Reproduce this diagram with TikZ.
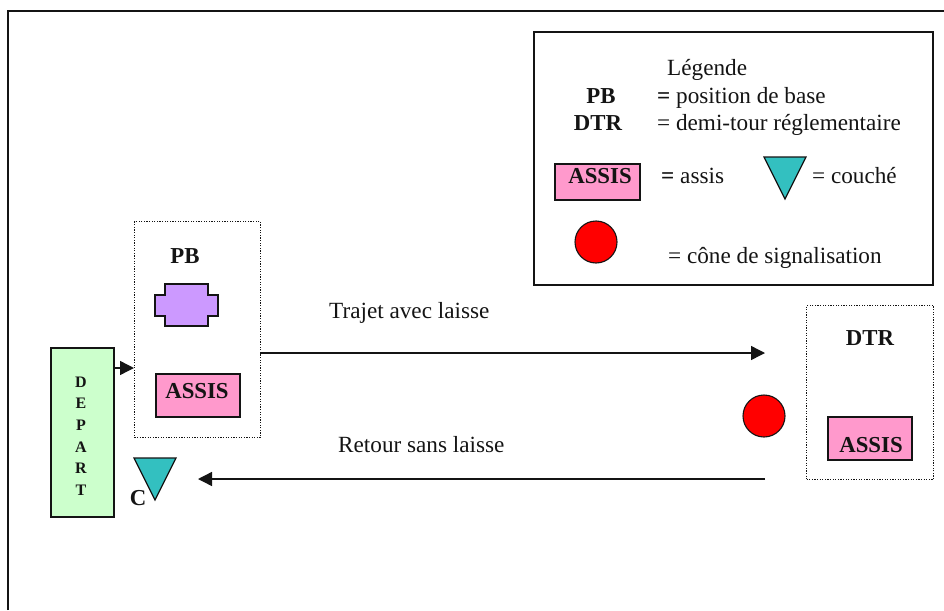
\documentclass[tikz,border=0pt]{standalone}
\usepackage{fontspec}
\setmainfont{Liberation Serif}
\usetikzlibrary{arrows.meta}
\definecolor{pinkb}{RGB}{255,153,204}
\definecolor{greenb}{RGB}{204,255,204}
\definecolor{purpb}{RGB}{204,153,255}
\definecolor{tealb}{RGB}{51,192,192}
\definecolor{ink}{RGB}{20,20,20}
\tikzset{
  x=1pt,y=-1pt,
  frameline/.style={draw=ink,line width=1.4pt},
  dotbox/.style={draw=ink,line width=1.2pt,dash pattern=on 1.2pt off 1.4pt,inner sep=0pt,anchor=north west},
  filledbox/.style={draw=ink,line width=1.6pt,inner sep=0pt,anchor=north west},
  assisbox/.style={filledbox,fill=pinkb,minimum width=84pt,minimum height=43pt},
  cone/.style={circle,draw=ink,line width=1.1pt,fill=red,minimum size=42pt,inner sep=0pt},
  lbl/.style={inner sep=0pt,font=\fontsize{23.2}{26}\selectfont,text=ink,anchor=base west},
  blbl/.style={inner sep=0pt,font=\fontsize{22.8}{26}\selectfont\bfseries,text=ink,anchor=base},
  arrowline/.style={draw=ink,line width=1.4pt,-{Triangle[length=14pt,width=14pt]}},
  dogtri/.style={draw=ink,line width=1.2pt,fill=tealb,line join=miter}
}
\begin{document}
\begin{tikzpicture}
\useasboundingbox (0,0) rectangle (944,610);
% outer frame
\coordinate (fbl) at (8,610);
\coordinate (ftl) at (8,11);
\coordinate (ftr) at (944,11);
\draw[frameline] (fbl) -- (ftl) -- (ftr);
% legend
\node[filledbox,fill=white,minimum width=399pt,minimum height=253pt] (legend) at (533,31) {};
\node[lbl] (lgtitle) at (667,75) {Légende};
\node[blbl] (lgpb) at (601,103) {PB};
\node[blbl] (lgdtr) at (598,130) {DTR};
\node[lbl] (lgpbt) at (657,103) {\textbf{=} position de base};
\node[lbl] (lgdtrt) at (657,130) {= demi-tour réglementaire};
\node[filledbox,fill=pinkb,minimum width=85pt,minimum height=36pt] (lgassis) at (554,163) {};
\node[blbl] (lgassist) at (600,183) {ASSIS};
\node[lbl] (lgassiseq) at (661,183) {\textbf{=} assis};
\draw[dogtri] (764,157) -- (806,157) -- (785,199) -- cycle;
\node[lbl] (lgcouche) at (812,183) {= couché};
\node[cone] (lgcone) at (596,242) {};
\node[lbl] (lgconet) at (668,263) {= cône de signalisation};
% depart
\node[filledbox,fill=greenb,minimum width=63pt,minimum height=169pt] (depart) at (50,347) {};
\foreach \l/\y/\n in {D/387/a,E/408/b,P/430/c,A/452/d,R/473/e,T/495/f}
  \node[inner sep=0pt,anchor=base,font=\fontsize{16}{18}\selectfont\bfseries,text=ink] (dep\n) at (81,\y) {\l};
% PB box
\node[dotbox,minimum width=126pt,minimum height=216pt] (pbbox) at (134,221) {};
\node[blbl] (pbt) at (185,263) {PB};
\draw[filledbox,fill=purpb] (165,284) -- (208,284) -- (208,295) -- (218,295) -- (218,316) -- (208,316) -- (208,326) -- (165,326) -- (165,316) -- (155,316) -- (155,295) -- (165,295) -- cycle;
\node[assisbox] (pbassis) at (155,373) {};
\node[blbl] (pbassist) at (197,398) {ASSIS};
\coordinate (pbin) at (134,368);
\draw[arrowline] (depart.east |- pbin) -- (pbin);
% couche
\draw[dogtri] (134,458) -- (176,458) -- (155,500) -- cycle;
\node[blbl] (c) at (138,505) {C};
% DTR box
\node[dotbox,minimum width=127pt,minimum height=174pt] (dtrbox) at (806,305) {};
\node[blbl] (dtrt) at (870,345) {DTR};
\node[assisbox] (dtrassis) at (827,416) {};
\node[blbl] (dtrassist) at (871,452) {ASSIS};
\node[cone] (cone) at (764,416) {};
% arrows
\coordinate (a1s) at (260,353);
\coordinate (a1e) at (765,353);
\coordinate (a2s) at (765,479);
\coordinate (a2e) at (198,479);
\draw[arrowline] (a1s) -- (a1e);
\draw[arrowline] (a2s) -- (a2e);
\node[lbl] (t1) at (329,318) {Trajet avec laisse};
\node[lbl] (t2) at (338,452) {Retour sans laisse};
\end{tikzpicture}
\end{document}
